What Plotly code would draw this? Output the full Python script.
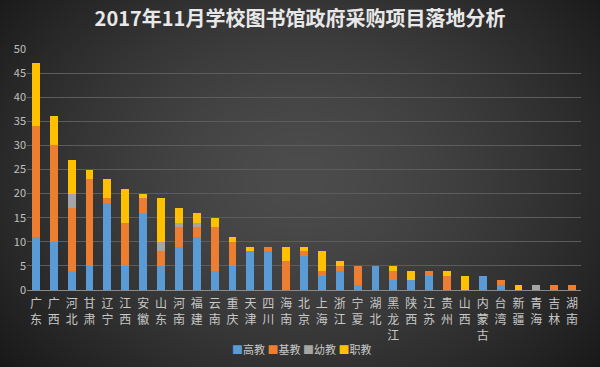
import base64, struct, zlib
import numpy as np
import plotly.graph_objects as go

categories = ["广东", "广西", "河北", "甘肃", "辽宁", "江西", "安徽", "山东", "河南", "福建",
              "云南", "重庆", "天津", "四川", "海南", "北京", "上海", "浙江", "宁夏", "湖北",
              "黑龙江", "陕西", "江苏", "贵州", "山西", "内蒙古", "台湾", "新疆", "青海", "吉林", "湖南"]
gaojiao = [11, 10, 4, 5, 18, 5, 16, 5, 9, 11, 4, 5, 8, 8, 0, 7, 3, 4, 1, 5, 2, 2, 3, 0, 0, 3, 1, 0, 0, 0, 0]
jijiao  = [23, 20, 13, 18, 1, 9, 3, 3, 4, 2, 9, 5, 0, 1, 6, 1, 1, 1, 4, 0, 2, 0, 1, 3, 0, 0, 1, 0, 0, 1, 1]
youjiao = [0, 0, 3, 0, 0, 0, 0, 2, 1, 1, 0, 0, 0, 0, 0, 0, 0, 0, 0, 0, 0, 0, 0, 0, 0, 0, 0, 0, 1, 0, 0]
zhijiao = [13, 6, 7, 2, 4, 7, 1, 9, 3, 2, 2, 1, 1, 0, 3, 1, 4, 1, 0, 0, 1, 2, 0, 1, 3, 0, 0, 1, 0, 0, 0]
series_names = ["高教", "基教", "幼教", "职教"]
series_colors = ["#5B9BD5", "#ED7D31", "#A5A5A5", "#FFC000"]
y_ticks = [0, 5, 10, 15, 20, 25, 30, 35, 40, 45, 50]
tick_labels = ["<br>".join(list(c)) for c in categories]

# background gradient image
W, H = 600, 367
yy, xx = np.mgrid[0:H, 0:W]
d = np.sqrt(((xx - 300) / 340.0) ** 2 + ((yy - 175) / 260.0) ** 2)
v = (76 - 42 * np.clip(d, 0, 1.2) ** 1.5).clip(20, 90).astype(np.uint8)
img = np.stack([v, v, v], axis=-1)
raw = b"".join(b"\x00" + img[r].tobytes() for r in range(H))
def chunk(t, data):
    return struct.pack(">I", len(data)) + t + data + struct.pack(">I", zlib.crc32(t + data) & 0xffffffff)
png = (b"\x89PNG\r\n\x1a\n" + chunk(b"IHDR", struct.pack(">IIBBBBB", W, H, 8, 2, 0, 0, 0))
       + chunk(b"IDAT", zlib.compress(raw, 9)) + chunk(b"IEND", b""))
bg_src = "data:image/png;base64," + base64.b64encode(png).decode()

ML, MR, MT, MB = 27, 19, 49, 77
PW, PH = W - ML - MR, H - MT - MB

FONT = "Noto Sans CJK SC"
fig = go.Figure()
for name, vals, col in zip(series_names, [gaojiao, jijiao, youjiao, zhijiao], series_colors):
    fig.add_trace(go.Bar(x=categories, y=vals, name=name, marker=dict(color=col, line=dict(width=0)),
                         showlegend=False))

legend_text = " ".join(f"<span style='color:{c}'>■</span>{n}" for n, c in zip(series_names, series_colors))

fig.update_layout(
    width=W, height=H,
    barmode="stack", bargap=0.56,
    margin=dict(l=ML, r=MR, t=MT, b=MB, autoexpand=False),
    paper_bgcolor="#3a3a3a", plot_bgcolor="rgba(0,0,0,0)",
    font=dict(family=FONT, color="#c0c0c0", size=11),
    title=dict(text="<b>2017年11月学校图书馆政府采购项目落地分析</b>", x=0.5, xanchor="center",
               y=1 - 19 / H, yanchor="middle", automargin=False,
               font=dict(size=20, color="#e8e8e8", family=FONT)),
    xaxis=dict(tickmode="array", tickvals=categories, ticktext=tick_labels, showgrid=False,
               showline=True, linecolor="#8a8a8a", linewidth=1, ticks="outside", ticklen=3,
               tickcolor="rgba(0,0,0,0)", automargin=False,
               tickfont=dict(size=12, color="#c8c8c8"), tickangle=0),
    yaxis=dict(range=[0, 50], tickvals=y_ticks, showgrid=True, gridcolor="#5c5c5c", gridwidth=1,
               zeroline=False, showline=False, ticks="", automargin=False,
               tickfont=dict(size=11, color="#c0c0c0")),
    images=[dict(source=bg_src, xref="paper", yref="paper", x=-ML / PW, y=1 + MT / PH,
                 sizex=W / PW, sizey=H / PH, xanchor="left", yanchor="top", sizing="stretch",
                 layer="below")],
    annotations=[
        dict(text=legend_text, xref="paper", yref="paper", x=(301 - ML) / PW, y=-(349 - MT - PH) / PH,
             xanchor="center", yanchor="middle", showarrow=False, font=dict(size=11, color="#c8c8c8")),
    ],
)

fig.write_html("out.html", config={"displayModeBar": False},
               post_script="document.body.style.margin='0';document.body.style.overflow='hidden';")
